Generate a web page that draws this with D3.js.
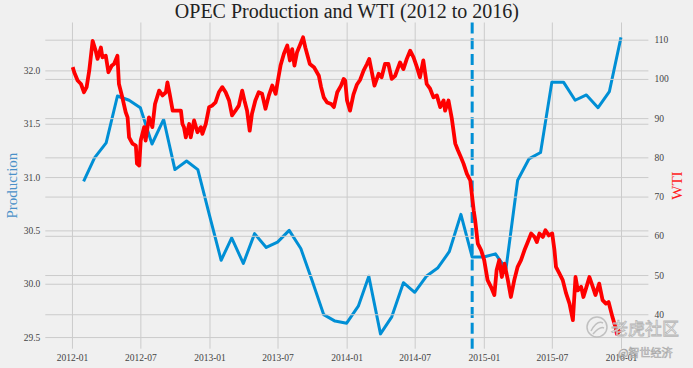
<!DOCTYPE html>
<html><head><meta charset="utf-8">
<script src="https://cdn.jsdelivr.net/npm/d3@7"></script>
<style>
html,body{margin:0;padding:0;background:#f0f0f0;}
svg{display:block;}
</style></head><body>
<svg id="chart" width="693" height="368"></svg>
<script>
const chartTitle = "OPEC Production and WTI (2012 to 2016)";
const leftLabel = "Production";
const rightLabel = "WTI";

const prodDates = [
"2012-02-01","2012-03-01","2012-04-01","2012-05-01","2012-06-01","2012-07-01","2012-08-01","2012-09-01","2012-10-01","2012-11-01","2012-12-01","2013-01-01",
"2013-02-01","2013-03-01","2013-04-01","2013-05-01","2013-06-01","2013-07-01","2013-08-01","2013-09-01","2013-10-01","2013-11-01","2013-12-01","2014-01-01",
"2014-02-01","2014-03-01","2014-04-01","2014-05-01","2014-06-01","2014-07-01","2014-08-01","2014-09-01","2014-10-01","2014-11-01","2014-12-01","2015-01-01",
"2015-02-01","2015-03-01","2015-04-01","2015-05-01","2015-06-01","2015-07-01","2015-08-01","2015-09-01","2015-10-01","2015-11-01","2015-12-01","2016-01-01"];
const prodValues = [
30.96,31.18,31.32,31.76,31.72,31.65,31.31,31.54,31.07,31.15,31.07,30.64,
30.22,30.43,30.19,30.47,30.34,30.39,30.50,30.33,30.03,29.71,29.65,29.63,
29.79,30.07,29.53,29.69,30.01,29.92,30.07,30.15,30.30,30.65,30.25,30.25,
30.28,30.14,30.97,31.17,31.23,31.89,31.89,31.72,31.77,31.65,31.80,32.31];

const wtiDates = [
"2012-01-03","2012-01-07","2012-01-16","2012-01-25","2012-02-02","2012-02-09","2012-02-16","2012-02-25","2012-03-04","2012-03-09",
"2012-03-18","2012-03-22","2012-03-31","2012-04-07","2012-04-16","2012-04-22","2012-05-01","2012-05-05","2012-05-14","2012-05-23",
"2012-05-28","2012-06-01","2012-06-10","2012-06-19","2012-06-22","2012-06-28","2012-07-02","2012-07-11","2012-07-15","2012-07-24",
"2012-08-02","2012-08-09","2012-08-20","2012-08-29","2012-09-07","2012-09-11","2012-09-17","2012-09-25","2012-10-03","2012-10-17",
"2012-10-21","2012-10-25","2012-10-30","2012-11-08","2012-11-12","2012-11-21","2012-11-30","2012-12-09","2012-12-13","2012-12-22",
"2012-12-31","2013-01-08","2013-01-17","2013-01-26","2013-02-04","2013-02-13","2013-02-22","2013-03-02","2013-03-11","2013-03-20",
"2013-03-29","2013-04-04","2013-04-11","2013-04-18","2013-04-24","2013-05-03","2013-05-12","2013-05-21","2013-05-30","2013-06-08",
"2013-06-17","2013-06-26","2013-07-02","2013-07-09","2013-07-18","2013-07-27","2013-08-03","2013-08-09","2013-08-15","2013-08-22",
"2013-08-31","2013-09-07","2013-09-13","2013-09-25","2013-10-06","2013-10-19","2013-10-25","2013-11-01","2013-11-10","2013-11-21",
"2013-11-28","2013-12-07","2013-12-17","2013-12-24","2013-12-28","2014-01-02","2014-01-10","2014-01-19","2014-01-28","2014-02-06",
"2014-02-15","2014-02-24","2014-03-02","2014-03-09","2014-03-16","2014-03-27","2014-04-04","2014-04-13","2014-04-22","2014-05-01",
"2014-05-10","2014-05-23","2014-06-01","2014-06-10","2014-06-19","2014-06-28","2014-07-07","2014-07-15","2014-07-24","2014-08-02",
"2014-08-11","2014-08-20","2014-08-29","2014-09-07","2014-09-16","2014-09-20","2014-09-29","2014-10-08","2014-10-17","2014-10-24",
"2014-10-30","2014-11-08","2014-11-17","2014-11-26","2014-11-30","2014-12-05","2014-12-09","2014-12-16","2014-12-25","2015-01-02",
"2015-01-11","2015-01-20","2015-01-29","2015-02-04","2015-02-11","2015-02-18","2015-02-25","2015-03-06","2015-03-14","2015-03-23",
"2015-04-01","2015-04-10","2015-04-19","2015-04-28","2015-05-07","2015-05-16","2015-05-22","2015-05-29","2015-06-07","2015-06-14",
"2015-06-23","2015-07-02","2015-07-08","2015-07-12","2015-07-21","2015-07-30","2015-08-08","2015-08-17","2015-08-26","2015-09-02",
"2015-09-08","2015-09-17","2015-09-23","2015-09-30","2015-10-09","2015-10-18","2015-10-25","2015-11-04","2015-11-13","2015-11-22",
"2015-11-29","2015-12-09","2015-12-18","2015-12-21","2015-12-31"];
const wtiValues = [
103.0,101.7,99.6,98.7,96.6,97.9,102.1,109.7,107.2,105.1,
108.0,105.5,105.9,101.7,103.4,103.8,105.9,98.7,95.3,91.5,
90.2,85.1,83.5,83.0,78.4,77.9,84.3,87.7,84.3,90.2,
87.7,93.6,97.0,95.8,96.6,99.1,96.2,91.9,91.9,91.9,
88.5,87.7,85.1,88.5,85.1,89.4,86.4,87.7,86.0,88.5,
92.8,93.2,94.0,96.6,97.9,96.6,94.5,90.7,91.9,93.2,
97.0,94.5,91.9,86.8,91.1,94.5,96.6,96.2,92.4,95.8,
98.3,96.2,99.6,103.4,106.4,108.5,104.7,107.6,103.4,106.8,
108.9,110.6,108.0,103.8,103.0,100.8,97.9,95.3,94.0,93.6,
92.8,96.6,98.3,100.0,99.6,94.5,91.9,96.0,98.5,99.8,
102.1,103.8,105.1,101.7,98.3,101.3,100.4,103.8,103.8,100.0,
100.8,104.2,102.5,105.1,107.2,105.5,103.0,100.4,104.7,98.7,
97.5,95.3,95.8,92.8,94.5,91.9,94.5,89.8,83.5,81.8,
80.5,78.4,75.8,74.1,70.7,66.5,63.9,58.0,56.3,53.8,
48.7,47.0,44.9,51.2,53.8,49.5,52.9,48.7,44.4,48.7,
52.1,53.8,56.3,58.4,60.6,59.7,58.4,60.6,59.7,61.4,
60.1,60.6,56.3,52.1,50.4,48.7,45.3,42.7,38.5,49.5,
46.1,47.0,44.4,46.6,49.5,47.0,44.9,47.8,43.6,42.7,
43.1,39.4,36.5,35.0,36.0];

const xTickLabels = ["2012-01","2012-07","2013-01","2013-07","2014-01","2014-07","2015-01","2015-07","2016-01"];
const prodTicks = [29.5,30.0,30.5,31.0,31.5,32.0];
const wtiTicks = [40,50,60,70,80,90,100,110];
const markerDate = "2014-12-01";

const svg = d3.select("#chart");
const box = {left:45.3, right:648.4, top:22.5, bottom:348.7};
const parse = d3.timeParse("%Y-%m-%d");
const pd = prodDates.map(parse), wd = wtiDates.map(parse);
const ext = d3.extent(pd.concat(wd));
const xp = (ext[1]-ext[0])*0.05;
const x = d3.scaleTime().domain([new Date(+ext[0]-xp), new Date(+ext[1]+xp)]).range([box.left, box.right]);
function padded(e){const r=(e[1]-e[0])*0.05; return [e[0]-r, e[1]+r];}
const yL = d3.scaleLinear().domain(padded(d3.extent(prodValues))).range([box.bottom, box.top]);
const yR = d3.scaleLinear().domain(padded(d3.extent(wtiValues))).range([box.bottom, box.top]);
const xTicks = xTickLabels.map(d3.timeParse("%Y-%m"));

svg.append("rect").attr("width",693).attr("height",368).attr("fill","#f0f0f0");
const font = "'Liberation Serif','DejaVu Serif',serif";
const gridColor = "#cbcbcb";

// vertical grid + x axis labels
const gx = svg.append("g").attr("transform",`translate(0,${box.bottom})`)
  .call(d3.axisBottom(x).tickValues(xTicks).tickFormat(d3.timeFormat("%Y-%m")).tickSize(-(box.bottom-box.top)).tickPadding(6));
gx.select(".domain").remove();
gx.selectAll(".tick line").attr("stroke",gridColor).attr("stroke-width",1);
gx.selectAll(".tick text").attr("font-family",font).attr("font-size",9.5).attr("fill","#444");

// left grid + labels
const gl = svg.append("g").attr("transform",`translate(${box.left},0)`)
  .call(d3.axisLeft(yL).tickValues(prodTicks).tickFormat(d3.format(".1f")).tickSize(-(box.right-box.left)).tickPadding(5));
gl.select(".domain").remove();
gl.selectAll(".tick line").attr("stroke",gridColor).attr("stroke-width",1);
gl.selectAll(".tick text").attr("font-family",font).attr("font-size",9.5).attr("fill","#444");

// production line
svg.append("path").datum(prodValues.map((v,i)=>[pd[i],v]))
  .attr("fill","none").attr("stroke","#008fd5").attr("stroke-width",3).attr("stroke-linejoin","round")
  .attr("d", d3.line().x(d=>x(d[0])).y(d=>yL(d[1])));

// marker line
svg.append("line").attr("x1",x(parse(markerDate))).attr("x2",x(parse(markerDate)))
  .attr("y1",box.top).attr("y2",box.bottom)
  .attr("stroke","#008fd5").attr("stroke-width",3).attr("stroke-dasharray","11,4.8");

// right grid + labels
const gr = svg.append("g").attr("transform",`translate(${box.right},0)`)
  .call(d3.axisRight(yR).tickValues(wtiTicks).tickFormat(d3.format("d")).tickSize(-(box.right-box.left)).tickPadding(6));
gr.select(".domain").remove();
gr.selectAll(".tick line").attr("stroke",gridColor).attr("stroke-width",1);
gr.selectAll(".tick text").attr("font-family",font).attr("font-size",9.5).attr("fill","#444");

// WTI line
svg.append("path").datum(wtiValues.map((v,i)=>[wd[i],v]))
  .attr("fill","none").attr("stroke","#ff0000").attr("stroke-width",3.8).attr("stroke-linejoin","round")
  .attr("d", d3.line().x(d=>x(d[0])).y(d=>yR(d[1])));

// title and axis labels
svg.append("text").attr("x",(box.left+box.right)/2).attr("y",18).attr("text-anchor","middle")
  .attr("font-family",font).attr("font-size",20).attr("fill","#222").text(chartTitle);
svg.append("text").attr("transform",`translate(17,${(box.top+box.bottom)/2}) rotate(-90)`)
  .attr("text-anchor","middle").attr("font-family",font).attr("font-size",15).attr("fill","#4a90c8").text(leftLabel);
svg.append("text").attr("transform",`translate(682,${(box.top+box.bottom)/2}) rotate(-90)`)
  .attr("text-anchor","middle").attr("font-family",font).attr("font-size",15).attr("fill","#ff1a1a").text(rightLabel);

// watermark
const wm = svg.append("g").attr("opacity",0.9);
wm.append("circle").attr("cx",597).attr("cy",327).attr("r",10).attr("fill","none").attr("stroke","#bbb").attr("stroke-width",1.5);
wm.append("path").attr("d","M591,331 Q597,320 603,323 M593,334 Q600,326 604,328").attr("fill","none").attr("stroke","#bbb").attr("stroke-width",1.5);
wm.append("text").attr("x",611).attr("y",335).attr("font-family","'Noto Sans CJK SC',sans-serif").attr("font-size",17)
  .attr("fill","#fff").attr("stroke","#b0b0b0").attr("stroke-width",0.8).text("老虎社区");
wm.append("text").attr("x",618).attr("y",357).attr("font-family","'Noto Sans CJK SC',sans-serif").attr("font-size",11)
  .attr("fill","#fff").attr("stroke","#a0a0a0").attr("stroke-width",0.6).text("@智世经济");
</script>
</body></html>
